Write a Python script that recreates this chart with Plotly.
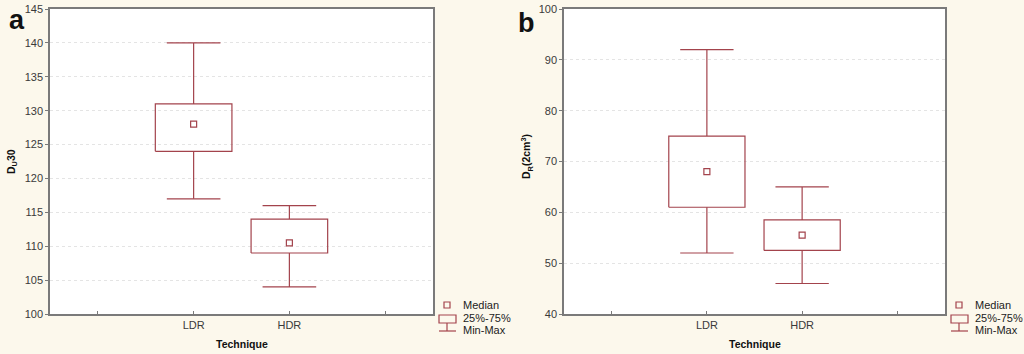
import plotly.graph_objects as go

W, H = 1024, 354

# ---- data ----
categories = ["LDR", "HDR"]
a_min = [117, 104]
a_q1 = [124, 109]
a_med = [128, 110.5]
a_q3 = [131, 114]
a_max = [140, 116]

b_min = [52, 46]
b_q1 = [61, 52.5]
b_med = [68, 55.5]
b_q3 = [75, 58.5]
b_max = [92, 65]

a_yticks = [100, 105, 110, 115, 120, 125, 130, 135, 140, 145]
b_yticks = [40, 50, 60, 70, 80, 90, 100]
legend_labels = ["Median", "25%-75%", "Min-Max"]

RED = "#A3434C"
BG = "#FCF8EC"
FONT = "Arial, Liberation Sans, sans-serif"
BOXW = 0.4
CAPW = 0.28


def px(x):
    return x / W


def py(y):
    return 1 - y / H


fig = go.Figure()


def add_panel(xa, ya, mins, q1s, meds, q3s, maxs):
    xs, ys = [], []
    for i, c in enumerate(categories):
        x = i + 1
        # box
        xs += [x - BOXW, x + BOXW, x + BOXW, x - BOXW, x - BOXW, None]
        ys += [q1s[i], q1s[i], q3s[i], q3s[i], q1s[i], None]
        # whiskers
        xs += [x, x, None, x, x, None]
        ys += [q3s[i], maxs[i], None, q1s[i], mins[i], None]
        # caps
        xs += [x - CAPW, x + CAPW, None, x - CAPW, x + CAPW, None]
        ys += [maxs[i], maxs[i], None, mins[i], mins[i], None]
    fig.add_trace(go.Scatter(x=xs, y=ys, mode="lines", xaxis=xa, yaxis=ya,
                             line=dict(color=RED, width=1.2), showlegend=False,
                             hoverinfo="skip"))
    fig.add_trace(go.Scatter(x=[i + 1 for i in range(len(categories))], y=meds,
                             mode="markers", xaxis=xa, yaxis=ya,
                             marker=dict(symbol="square-open", size=6,
                                         color=RED, line=dict(width=1.2)),
                             showlegend=False))


add_panel("x", "y", a_min, a_q1, a_med, a_q3, a_max)
add_panel("x2", "y2", b_min, b_q1, b_med, b_q3, b_max)

axis_common = dict(showline=True, mirror=True, linecolor="#7a7a7a", linewidth=1.5,
                   tickfont=dict(family=FONT, size=11, color="#3a3a3a"),
                   zeroline=False, automargin=False)

xcommon = dict(axis_common, range=[-0.5, 3.5], tickvals=[0, 1, 2, 3],
               ticktext=["", categories[0], categories[1], ""],
               ticks="inside", ticklen=3, tickcolor="#7a7a7a",
               showgrid=False, fixedrange=True)

fig.update_layout(
    width=W, height=H,
    margin=dict(l=0, r=0, t=0, b=0, pad=0),
    paper_bgcolor=BG, plot_bgcolor="white",
    showlegend=False,
    xaxis=dict(xcommon, domain=[px(50), px(433)], anchor="y"),
    yaxis=dict(axis_common, domain=[py(314), py(9)], range=[100, 145],
               tickvals=a_yticks, ticks="outside", ticklen=3, tickcolor="#7a7a7a",
               showgrid=True, gridcolor="#e4e4e4", griddash="dot", gridwidth=1,
               anchor="x"),
    xaxis2=dict(xcommon, domain=[px(564), px(945)], anchor="y2"),
    yaxis2=dict(axis_common, domain=[py(314), py(9)], range=[40, 100],
                tickvals=b_yticks, ticks="outside", ticklen=3, tickcolor="#7a7a7a",
                showgrid=True, gridcolor="#e4e4e4", griddash="dot", gridwidth=1,
                anchor="x2"),
)

ann = []
shapes = []


def text(t, x, y, size, color="#111", angle=0, xanchor="center"):
    ann.append(dict(text=t, x=px(x), y=py(y), xref="paper", yref="paper",
                    xanchor=xanchor, yanchor="middle", showarrow=False,
                    textangle=angle, font=dict(family=FONT, size=size, color=color)))


# panel letters
text("<b>a</b>", 17, 20, 27)
text("<b>b</b>", 526, 23, 27)
# y titles
text("<b>D<sub>U</sub>30</b>", 12, 162, 10.5, angle=-90)
text("<b>D<sub>R</sub>(2cm<sup>3</sup>)</b>", 527, 157, 10.5, angle=-90)
# x titles
text("<b>Technique</b>", 242, 344, 10.5)
text("<b>Technique</b>", 755, 344, 10.5)

# legends
for off in (0, 512):
    lx = 447 + off
    shapes.append(dict(type="rect", xref="paper", yref="paper",
                       x0=px(lx - 3), x1=px(lx + 3), y0=py(308), y1=py(302),
                       line=dict(color=RED, width=1.2)))
    shapes.append(dict(type="rect", xref="paper", yref="paper",
                       x0=px(lx - 8), x1=px(lx + 9), y0=py(323), y1=py(315),
                       line=dict(color=RED, width=1.2)))
    shapes.append(dict(type="line", xref="paper", yref="paper",
                       x0=px(lx), x1=px(lx), y0=py(323), y1=py(331),
                       line=dict(color=RED, width=1.2)))
    shapes.append(dict(type="line", xref="paper", yref="paper",
                       x0=px(lx - 8), x1=px(lx + 9), y0=py(331), y1=py(331),
                       line=dict(color=RED, width=1.2)))
    for lab, yy in zip(legend_labels, (305, 318, 330)):
        text(lab, lx + 14, yy, 11, color="#222", xanchor="left")

fig.update_layout(annotations=ann, shapes=shapes)

fig.write_html("out.html")
